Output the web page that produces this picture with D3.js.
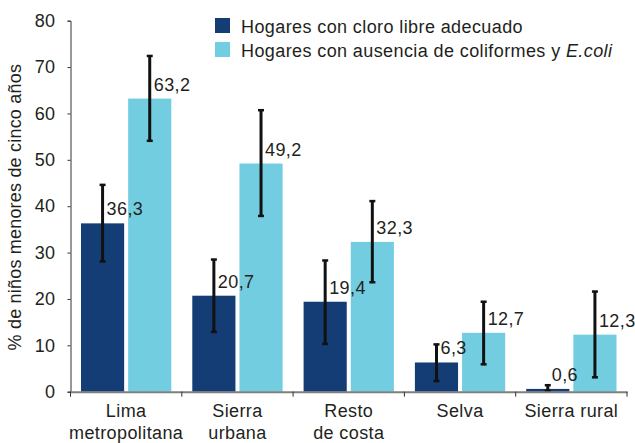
<!DOCTYPE html>
<html>
<head>
<meta charset="utf-8">
<script src="https://cdn.jsdelivr.net/npm/d3@7"></script>
<style>
	body { margin: 0; background: #fff; }
	svg text { font-family: "Liberation Sans", Arial, sans-serif; fill: #231f20; font-size: 18px; letter-spacing: 0.4px; }
</style>
</head>
<body>
<svg id="chart" width="635" height="443"></svg>
<script>
// categories (two lines each) and series
var categories = ["Lima metropolitana", "Sierra urbana", "Resto de costa", "Selva", "Sierra rural"];
var cat_lines = [["Lima", "metropolitana"], ["Sierra", "urbana"], ["Resto", "de costa"], ["Selva"], ["Sierra rural"]];
var series = ["cloro", "coli"];

var cloro = [36.3, 20.7, 19.4, 6.3, 0.6];
var cloro_lo = [28.1, 12.9, 10.3, 2.3, 0.2];
var cloro_hi = [44.6, 28.5, 28.3, 10.2, 1.4];

var coli = [63.2, 49.2, 32.3, 12.7, 12.3];
var coli_lo = [54.1, 37.9, 23.6, 5.9, 3.1];
var coli_hi = [72.4, 60.7, 41.1, 19.4, 21.6];

var y_ticks = [0, 10, 20, 30, 40, 50, 60, 70, 80];
var colors = {"cloro" : "#133d74", "coli" : "#73cde0"};

var svg = d3.select("#chart");
var m_left = 70.5, m_right = 627, m_top = 20.7, m_bottom = 391.7;

var y = d3.scaleLinear().domain([0, 80]).range([m_bottom, m_top]);
var x0 = d3.scaleBand().domain(categories).range([m_left, m_right]).padding(0);
var x1 = d3.scaleBand().domain(series).range([10.5, x0.bandwidth() - 10.5]).paddingInner(0.085);

// y axis
var yAxis = d3.axisLeft(y).tickValues(y_ticks).tickSize(3).tickPadding(12).tickFormat(d3.format("d"));
var gy = svg.append("g").attr("transform", "translate(" + m_left + ",0)").call(yAxis);
gy.attr("font-size", null).attr("font-family", null);
gy.select(".domain").attr("stroke", "#333").attr("stroke-width", 1);
gy.selectAll(".tick line").attr("stroke", "#333");
gy.selectAll(".tick text").attr("fill", "#231f20");

svg.append("text")
	.attr("transform", "translate(21," + ((m_top + m_bottom) / 2 + 1) + ") rotate(-90)")
	.attr("text-anchor", "middle")
	.style("letter-spacing", "0.2px")
	.text("% de niños menores de cinco años");

// rows of data
var rows = categories.map(function(c, i) {
	return [
		{cat : c, key : "cloro", v : cloro[i], lo : cloro_lo[i], hi : cloro_hi[i]},
		{cat : c, key : "coli", v : coli[i], lo : coli_lo[i], hi : coli_hi[i]}
	];
});

var groups = svg.selectAll("g.cat")
	.data(rows)
	.enter().append("g")
	.attr("class", "cat")
	.attr("transform", function(d, i) { return "translate(" + x0(categories[i]) + ",0)"; });

groups.selectAll("rect")
	.data(function(d) { return d; })
	.enter().append("rect")
	.attr("x", function(d) { return x1(d.key); })
	.attr("y", function(d) { return y(d.v); })
	.attr("width", x1.bandwidth())
	.attr("height", function(d) { return y(0) - y(d.v); })
	.attr("fill", function(d) { return colors[d.key]; });

// x axis line over the bars
var xAxis = d3.axisBottom(x0).tickSize(0).tickFormat("");
var gx = svg.append("g").attr("transform", "translate(0," + m_bottom + ")").call(xAxis);
gx.select(".domain").attr("stroke", "#7f7f7f").attr("stroke-width", 2);
gx.selectAll(".tick").remove();
var bounds = categories.map(function(c) { return x0(c); }).concat([m_right]);
gx.selectAll("line.sep")
	.data(bounds)
	.enter().append("line")
	.attr("class", "sep")
	.attr("x1", function(d) { return d; })
	.attr("x2", function(d) { return d; })
	.attr("y1", 0)
	.attr("y2", 5)
	.attr("stroke", "#333");

// error bars
var eb = groups.selectAll("g.err")
	.data(function(d) { return d; })
	.enter().append("g")
	.attr("class", "err")
	.attr("transform", function(d) { return "translate(" + (x1(d.key) + x1.bandwidth() / 2) + ",0)"; });

eb.append("line")
	.attr("y1", function(d) { return y(d.lo); })
	.attr("y2", function(d) { return y(d.hi); })
	.attr("stroke", "#111").attr("stroke-width", 3);
eb.append("line")
	.attr("x1", -3).attr("x2", 3)
	.attr("y1", function(d) { return y(d.lo); })
	.attr("y2", function(d) { return y(d.lo); })
	.attr("stroke", "#111").attr("stroke-width", 2.5);
eb.append("line")
	.attr("x1", -3).attr("x2", 3)
	.attr("y1", function(d) { return y(d.hi); })
	.attr("y2", function(d) { return y(d.hi); })
	.attr("stroke", "#111").attr("stroke-width", 2.5);

// value labels
eb.append("text")
	.attr("x", 4)
	.attr("y", function(d) { return y(d.v) - 8; })
	.text(function(d) { return d3.format(".1f")(d.v).replace(".", ","); });

// category labels
var cl = svg.selectAll("text.cat")
	.data(cat_lines)
	.enter().append("text")
	.attr("class", "cat")
	.attr("text-anchor", "middle")
	.attr("x", function(d, i) { return x0(categories[i]) + x0.bandwidth() / 2; })
	.attr("y", 417);
cl.selectAll("tspan")
	.data(function(d) { return d; })
	.enter().append("tspan")
	.attr("x", function() { return d3.select(this.parentNode).attr("x"); })
	.attr("dy", function(d, i) { return i ? 21.5 : 0; })
	.text(function(d) { return d; });

// legend
var legend = svg.append("g").attr("transform", "translate(215,18)");
legend.append("rect").attr("width", 15).attr("height", 15).attr("fill", colors.cloro);
legend.append("rect").attr("y", 24).attr("width", 15).attr("height", 15).attr("fill", colors.coli);
legend.append("text").attr("x", 26).attr("y", 15)
	.text("Hogares con cloro libre adecuado");
var l2 = legend.append("text").attr("x", 26).attr("y", 39);
l2.append("tspan").text("Hogares con ausencia de coliformes y ");
l2.append("tspan").style("font-style", "italic").text("E.coli");
</script>
</body>
</html>
